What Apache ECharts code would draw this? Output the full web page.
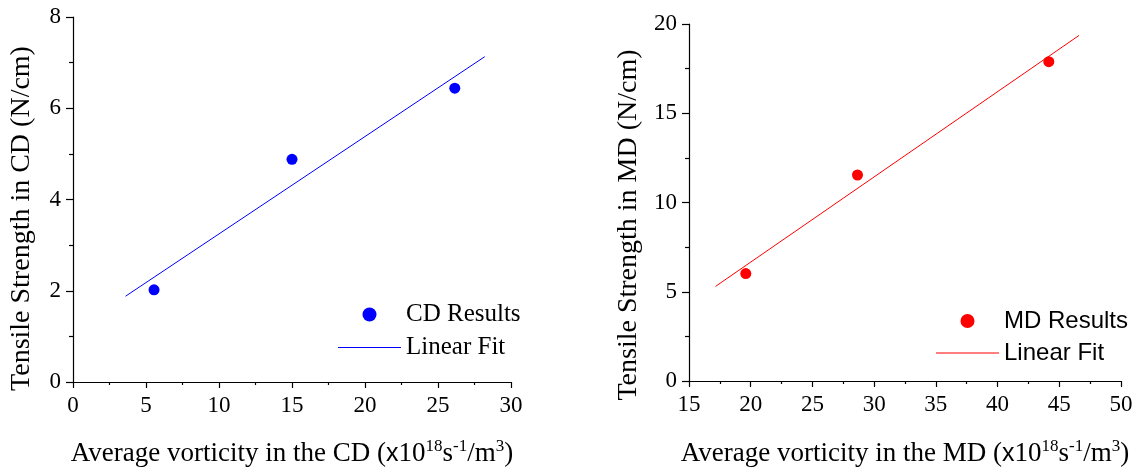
<!DOCTYPE html>
<html>
<head>
<meta charset="utf-8">
<script src="https://cdn.jsdelivr.net/npm/echarts@6/dist/echarts.min.js"></script>
<style>
  html, body { margin: 0; padding: 0; background: #fff; }
  #wrap { position: relative; width: 1138px; height: 472px; }
  #cd { position: absolute; left: 0; top: 0; width: 569px; height: 472px; }
  #md { position: absolute; left: 569px; top: 0; width: 569px; height: 472px; }
</style>
</head>
<body>
<div id="wrap"><div id="cd"></div><div id="md"></div></div>
<script>
// Cross direction (CD): average vorticity (x10^18 s^-1/m^3) vs tensile strength (N/cm)
const cdVorticity = [5.55, 15.0, 26.15];
const cdStrength = [2.02, 4.88, 6.44];
// Linear fit drawn between these two end points
const cdFitX = [3.6, 28.2];
const cdFitY = [1.88, 7.13];

// Machine direction (MD)
const mdVorticity = [19.6, 28.65, 44.15];
const mdStrength = [6.02, 11.54, 17.89];
const mdFitX = [17.15, 46.6];
const mdFitY = [5.3, 19.36];

// Axis tick settings
const cdXTicks = { min: 0, max: 30, interval: 5 };
const cdYTicks = { min: 0, max: 8, interval: 2 };
const mdXTicks = { min: 15, max: 50, interval: 5 };
const mdYTicks = { min: 0, max: 20, interval: 5 };

const SERIF = '"Liberation Serif", "Times New Roman", serif';
const SANS = '"Liberation Sans", Arial, sans-serif';

// thin horizontal bar used as the legend icon of the fit line
const LINE_ICON = 'path://M0,0 L63,0 L63,1.1 L0,1.1 Z';

function pairs(xs, ys) { return xs.map((x, i) => [x, ys[i]]); }

function xName(dir) {
  return '{a|Average vorticity in the ' + dir + ' (}{x|x}{a|10}{s|18}{a|s}{s|-1}{a|/m}{s|3}{a|)}';
}

const richName = {
  a: { fontFamily: SERIF, fontSize: 27, color: '#000', verticalAlign: 'bottom', lineHeight: 30 },
  x: { fontFamily: SANS, fontSize: 25, color: '#000', verticalAlign: 'bottom', lineHeight: 30 },
  s: { fontFamily: SERIF, fontSize: 17, color: '#000', verticalAlign: 'bottom', lineHeight: 30, padding: [0, 0, 12, 0] }
};

function axisCommon(ticks, labelSize, tickLen, minorLen) {
  return {
    type: 'value',
    min: ticks.min, max: ticks.max, interval: ticks.interval,
    axisLine: { show: true, onZero: false, lineStyle: { color: '#000', width: 1.2 } },
    axisTick: { show: true, inside: false, length: tickLen, lineStyle: { color: '#000', width: 1.2 } },
    minorTick: { show: true, splitNumber: 2, length: minorLen, lineStyle: { color: '#000', width: 1.2 } },
    splitLine: { show: false },
    axisLabel: { fontFamily: SERIF, fontSize: labelSize, color: '#000', margin: 12 }
  };
}

function buildOption(cfg) {
  return {
    backgroundColor: '#fff',
    animation: false,
    grid: cfg.grid,
    legend: {
      orient: 'vertical',
      padding: 0,
      left: cfg.legendLeft, top: cfg.legendTop,
      itemWidth: 63, itemHeight: 14, itemGap: cfg.legendGap,
      textStyle: { fontFamily: cfg.legendFont, fontSize: cfg.legendSize, color: '#000' },
      data: [
        { name: cfg.pointName, icon: 'circle' },
        { name: 'Linear Fit', icon: LINE_ICON }
      ]
    },
    xAxis: Object.assign(axisCommon(cfg.xTicks, 23, 6, 3), {
      name: cfg.xName,
      nameLocation: 'middle',
      nameGap: cfg.xNameGap,
      nameTextStyle: { rich: richName }
    }),
    yAxis: Object.assign(axisCommon(cfg.yTicks, 23, 7, 4), {
      name: cfg.yName,
      nameLocation: 'middle',
      nameGap: cfg.yNameGap,
      nameTextStyle: { fontFamily: SERIF, fontSize: 28, color: '#000', padding: [0, cfg.yNameShift, 0, 0] }
    }),
    series: [
      {
        name: cfg.pointName,
        type: 'scatter',
        symbol: 'circle',
        symbolSize: 11,
        itemStyle: { color: cfg.color, opacity: 1 },
        data: pairs(cfg.px, cfg.py)
      },
      {
        name: 'Linear Fit',
        type: 'line',
        symbol: 'none',
        lineStyle: { color: cfg.color, width: 1 },
        itemStyle: { color: cfg.color },
        data: pairs(cfg.fx, cfg.fy)
      }
    ]
  };
}

const cdChart = echarts.init(document.getElementById('cd'));
cdChart.setOption(buildOption({
  grid: { left: 69, top: 17, width: 442, height: 366 },
  legendLeft: 338, legendTop: 302, legendGap: 8,
  legendFont: SERIF, legendSize: 25,
  pointName: 'CD Results',
  color: '#0000ff',
  xTicks: cdXTicks, yTicks: cdYTicks,
  xName: xName('CD'),
  xNameGap: 55,
  yName: 'Tensile Strength in CD (N/cm)',
  yNameGap: 37,
  yNameShift: 38,
  px: cdVorticity, py: cdStrength, fx: cdFitX, fy: cdFitY
}));

const mdChart = echarts.init(document.getElementById('md'));
mdChart.setOption(buildOption({
  grid: { left: 120, top: 24, width: 432, height: 362 },
  legendLeft: 367, legendTop: 309, legendGap: 8,
  legendFont: SANS, legendSize: 24,
  pointName: 'MD Results',
  color: '#ff0000',
  xTicks: mdXTicks, yTicks: mdYTicks,
  xName: xName('MD'),
  xNameGap: 56,
  yName: 'Tensile Strength in MD (N/cm)',
  yNameGap: 46,
  yNameShift: 45,
  px: mdVorticity, py: mdStrength, fx: mdFitX, fy: mdFitY
}));
</script>
</body>
</html>
